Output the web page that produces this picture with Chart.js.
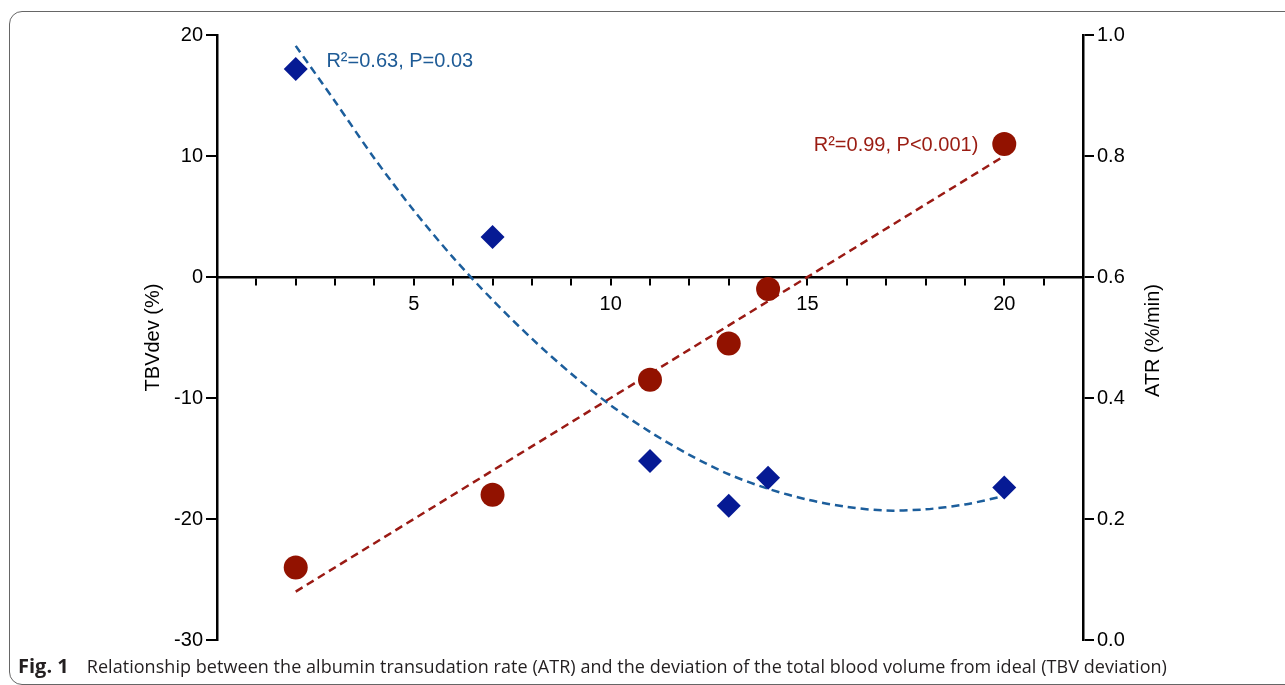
<!DOCTYPE html>
<html>
<head>
    <meta charset="UTF-8">
    <title>ATR vs TBV deviation</title>
    <script src="https://cdn.jsdelivr.net/npm/chart.js"></script>
    <style>
        body {
            margin: 0;
            background: #fff;
            overflow: hidden;
        }
        .page {
            position: relative;
            width: 1285px;
            height: 685px;
        }
        .frame {
            position: absolute;
            left: 9px;
            top: 11px;
            width: 1320px;
            height: 672px;
            border: 1px solid #666;
            border-radius: 13px;
        }
        canvas {
            position: absolute;
            left: 0;
            top: 0;
        }
        .caption {
            position: absolute;
            left: 18px;
            top: 652px;
            font-family: "Open Sans", sans-serif;
            font-size: 18px;
            letter-spacing: 0.05px;
            color: #231f20;
            white-space: nowrap;
        }
        .caption b {
            font-size: 20px;
            letter-spacing: 0;
            margin-right: 18px;
        }
    </style>
</head>
<body>
<div class="page">
    <div class="frame"></div>
    <canvas id="chart" width="1285" height="685"></canvas>
    <div class="caption"><b>Fig. 1</b>Relationship between the albumin transudation rate (ATR) and the deviation of the total blood volume from ideal (TBV deviation)</div>
</div>

<script>
// 观测点（x 同为 ATR 组的横坐标）
const obsX = [2, 7, 11, 13, 14, 20];
const tbvDev = [17.2, 3.3, -15.2, -18.9, -16.6, -17.4];   // 左轴 TBVdev (%)
const atr = [0.12, 0.24, 0.43, 0.49, 0.58, 0.82];          // 右轴 ATR (%/min)

// 拟合曲线
const tbvFitX = [2, 3, 4, 5, 6, 7, 8, 9, 10, 11, 12, 13, 14, 15, 16, 17, 18, 19, 20];
const tbvFitY = [19.1, 14.5, 9.8, 5.5, 1.6, -1.9, -5.1, -8.0, -10.6, -12.8, -14.7, -16.3, -17.5, -18.4, -19.0, -19.3, -19.2, -18.8, -18.1];
const atrFitX = [2, 20];
const atrFitY = [0.08, 0.80];

// 刻度
const leftTicks = [-30, -20, -10, 0, 10, 20];
const rightTicks = [0, 0.2, 0.4, 0.6, 0.8, 1.0];
const xLabelled = [5, 10, 15, 20];

const BLUE_PT = '#061a94';
const RED_PT = '#921200';
const BLUE_LN = '#1c5e9c';
const RED_LN = '#9a1a14';
const FONT = '"Liberation Sans", Arial, Helvetica, sans-serif';

function pts(xs, ys) {
    return xs.map((x, i) => ({ x: x, y: ys[i] }));
}

// 注释文字 + 右轴标题
const notes = {
    id: 'notes',
    afterDatasetsDraw(chart) {
        const { ctx, scales, chartArea } = chart;
        ctx.save();
        ctx.font = '20px ' + FONT;
        ctx.textBaseline = 'middle';

        ctx.fillStyle = '#1e5b96';
        ctx.textAlign = 'left';
        ctx.fillText('R\u00b2=0.63, P=0.03', scales.x.getPixelForValue(2.78), scales.y.getPixelForValue(17.8));

        ctx.fillStyle = '#9a1c12';
        ctx.textAlign = 'right';
        ctx.fillText('R\u00b2=0.99, P<0.001)', scales.x.getPixelForValue(19.34), scales.y1.getPixelForValue(0.818));

        // 右轴标题，自下而上
        ctx.fillStyle = '#000';
        ctx.textAlign = 'center';
        ctx.translate(chartArea.right + 70, (chartArea.top + chartArea.bottom) / 2 + 3);
        ctx.rotate(-Math.PI / 2);
        ctx.fillText('ATR (%/min)', 0, 0);
        ctx.restore();
    }
};

new Chart(document.getElementById('chart'), {
    type: 'scatter',
    data: {
        datasets: [
            {
                label: 'TBVdev',
                data: pts(obsX, tbvDev),
                yAxisID: 'y',
                pointStyle: 'rectRot',
                pointRadius: 12,
                backgroundColor: BLUE_PT,
                borderColor: BLUE_PT,
                borderWidth: 0
            },
            {
                label: 'ATR',
                data: pts(obsX, atr),
                yAxisID: 'y1',
                pointStyle: 'circle',
                pointRadius: 12,
                backgroundColor: RED_PT,
                borderColor: RED_PT,
                borderWidth: 0
            },
            {
                label: 'TBV fit',
                type: 'line',
                data: pts(tbvFitX, tbvFitY),
                yAxisID: 'y',
                borderColor: BLUE_LN,
                borderWidth: 2.5,
                borderDash: [8, 5],
                pointRadius: 0,
                tension: 0.3,
                fill: false
            },
            {
                label: 'ATR fit',
                type: 'line',
                data: pts(atrFitX, atrFitY),
                yAxisID: 'y1',
                borderColor: RED_LN,
                borderWidth: 2.5,
                borderDash: [8, 5],
                pointRadius: 0,
                fill: false
            }
        ]
    },
    options: {
        responsive: false,
        animation: false,
        layout: { padding: { left: 137, right: 116, top: 35, bottom: 45 } },
        plugins: {
            legend: { display: false },
            tooltip: { enabled: false }
        },
        scales: {
            x: {
                type: 'linear',
                position: { y: 0 },
                min: 0,
                max: 22,
                border: { display: true, color: '#000', width: 2.5 },
                grid: { drawOnChartArea: false, drawTicks: true, tickLength: 7, color: '#000', lineWidth: 2 },
                ticks: {
                    stepSize: 1,
                    autoSkip: false,
                    maxRotation: 0,
                    padding: 8,
                    color: '#000',
                    font: { family: FONT, size: 20 },
                    callback: v => xLabelled.includes(v) ? String(v) : ''
                }
            },
            y: {
                position: 'left',
                min: -30,
                max: 20,
                afterFit: s => { s.width = 80; },
                afterBuildTicks: s => { s.ticks = leftTicks.map(v => ({ value: v })); },
                border: { display: true, color: '#000', width: 2.5 },
                grid: { drawOnChartArea: false, tickLength: 11, color: '#000', lineWidth: 2 },
                ticks: {
                    padding: 3,
                    color: '#000',
                    font: { family: FONT, size: 20 },
                    callback: v => String(v)
                },
                title: {
                    display: true,
                    text: 'TBVdev (%)',
                    color: '#000',
                    font: { family: FONT, size: 20 }
                }
            },
            y1: {
                position: 'right',
                min: 0,
                max: 1,
                afterFit: s => { s.width = 86; },
                afterBuildTicks: s => { s.ticks = rightTicks.map(v => ({ value: v })); },
                border: { display: true, color: '#000', width: 2.5 },
                grid: { drawOnChartArea: false, tickLength: 11, color: '#000', lineWidth: 2 },
                ticks: {
                    padding: 3,
                    color: '#000',
                    font: { family: FONT, size: 20 },
                    callback: v => v.toFixed(1)
                }
            }
        }
    },
    plugins: [notes]
});
</script>
</body>
</html>
